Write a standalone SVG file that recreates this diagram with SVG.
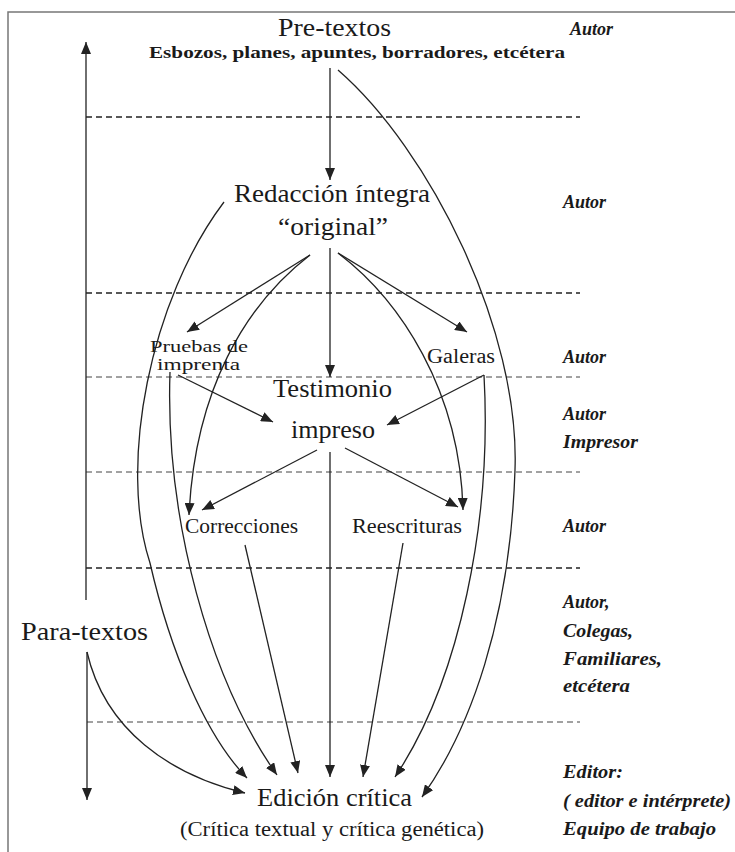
<svg xmlns="http://www.w3.org/2000/svg" width="735" height="852" viewBox="0 0 735 852">
<defs>
<marker id="ah" markerUnits="userSpaceOnUse" markerWidth="13" markerHeight="10" refX="12" refY="5" orient="auto">
<path d="M0,0 L12,5 L0,10 z" fill="#222"/>
</marker>
<style>
.bg{fill:#fff}
.frame{stroke:#777;stroke-width:1.5;fill:none}
.c{stroke:#222;stroke-width:1.3;fill:none}
.a{stroke:#222;stroke-width:1.3;fill:none;marker-end:url(#ah)}
.dh{stroke:#222;stroke-width:1.6;stroke-dasharray:6 4;fill:none}
.dl{stroke:#444;stroke-width:1;stroke-dasharray:6 4;fill:none}
text{font-family:"Liberation Serif","Times New Roman",serif;fill:#1a1a1a}
.big{font-size:26px}
.med{font-size:20px}
.sm{font-size:17px}
.sub{font-size:17px;font-weight:bold}
.role{font-size:18px;font-weight:bold;font-style:italic}
</style>
</defs>
<rect class="bg" x="0" y="0" width="735" height="852"/>
<path class="frame" d="M8,852 L8,12 L735,12"/>

<g id="bands">
<line class="dh" x1="86" y1="117" x2="580" y2="117"/>
<line class="dh" x1="86" y1="293" x2="580" y2="293"/>
<line class="dl" x1="86" y1="377" x2="580" y2="377"/>
<line class="dl" x1="86" y1="472" x2="580" y2="472"/>
<line class="dh" x1="86" y1="568" x2="580" y2="568"/>
<line class="dl" x1="87" y1="722" x2="580" y2="722"/>
</g>

<g id="connectors">
<line class="a" x1="86" y1="600" x2="86" y2="42"/>
<line class="a" x1="87" y1="652" x2="87" y2="800"/>
<line class="a" x1="330" y1="68" x2="330" y2="180"/>
<path class="a" d="M338,70 C430,150 520,330 515,470 C510,620 470,730 422,797"/>
<path class="a" d="M224,202 C150,300 118,465 150,563 C170,650 205,735 247,778"/>
<line class="a" x1="310" y1="255" x2="187" y2="332"/>
<path class="a" d="M310,255 C245,305 195,390 189,515"/>
<line class="a" x1="330" y1="248" x2="330" y2="377"/>
<line class="a" x1="338" y1="253" x2="467" y2="332"/>
<path class="a" d="M338,253 C400,300 460,390 463,510"/>
<line class="a" x1="178" y1="375" x2="273" y2="422"/>
<line class="a" x1="484" y1="375" x2="387" y2="425"/>
<path class="a" d="M170,372 C165,520 210,680 277,775"/>
<path class="a" d="M484,375 C492,520 460,680 395,777"/>
<line class="a" x1="317" y1="450" x2="202" y2="510"/>
<line class="a" x1="345" y1="448" x2="458" y2="507"/>
<line class="a" x1="330" y1="452" x2="330" y2="777"/>
<line class="a" x1="245" y1="545" x2="298" y2="773"/>
<line class="a" x1="403" y1="543" x2="363" y2="777"/>
<path class="a" d="M87,652 C105,730 170,775 245,793"/>
</g>

<g id="pretextos">
<text class="big" x="278" y="36" textLength="113" lengthAdjust="spacingAndGlyphs">Pre-textos</text>
<text class="sub" x="149" y="58" textLength="416" lengthAdjust="spacingAndGlyphs">Esbozos, planes, apuntes, borradores, etcétera</text>
</g>
<g id="redaccion">
<text class="big" x="234" y="202" textLength="196" lengthAdjust="spacingAndGlyphs">Redacción íntegra</text>
<text class="big" x="278" y="235" textLength="110" lengthAdjust="spacingAndGlyphs">“original”</text>
</g>
<g id="pruebas">
<text class="sm" x="150" y="352" textLength="98" lengthAdjust="spacingAndGlyphs">Pruebas de</text>
<text class="sm" x="157" y="370" textLength="83" lengthAdjust="spacingAndGlyphs">imprenta</text>
</g>
<g id="galeras">
<text class="med" x="427" y="363" textLength="68" lengthAdjust="spacingAndGlyphs">Galeras</text>
</g>
<g id="testimonio">
<text class="big" x="273" y="397" textLength="119" lengthAdjust="spacingAndGlyphs">Testimonio</text>
<text class="big" x="291" y="438" textLength="84" lengthAdjust="spacingAndGlyphs">impreso</text>
</g>
<g id="correcciones">
<text class="med" x="185" y="533" textLength="113" lengthAdjust="spacingAndGlyphs">Correcciones</text>
</g>
<g id="reescrituras">
<text class="med" x="352" y="533" textLength="110" lengthAdjust="spacingAndGlyphs">Reescrituras</text>
</g>
<g id="paratextos">
<text class="big" x="21" y="640" textLength="127" lengthAdjust="spacingAndGlyphs">Para-textos</text>
</g>
<g id="edicion">
<text class="big" x="257" y="806" textLength="155" lengthAdjust="spacingAndGlyphs">Edición crítica</text>
<text class="med" x="180" y="836" textLength="304" lengthAdjust="spacingAndGlyphs">(Crítica textual y crítica genética)</text>
</g>

<g id="roles">
<text class="role" x="570" y="35">Autor</text>
<text class="role" x="563" y="208">Autor</text>
<text class="role" x="563" y="363">Autor</text>
<text class="role" x="563" y="420">Autor</text>
<text class="role" x="563" y="448" textLength="75" lengthAdjust="spacingAndGlyphs">Impresor</text>
<text class="role" x="563" y="532">Autor</text>
<text class="role" x="563" y="608">Autor,</text>
<text class="role" x="563" y="637" textLength="70" lengthAdjust="spacingAndGlyphs">Colegas,</text>
<text class="role" x="563" y="665" textLength="99" lengthAdjust="spacingAndGlyphs">Familiares,</text>
<text class="role" x="563" y="692" textLength="67" lengthAdjust="spacingAndGlyphs">etcétera</text>
<text class="role" x="563" y="778" textLength="60" lengthAdjust="spacingAndGlyphs">Editor:</text>
<text class="role" x="563" y="807" textLength="168" lengthAdjust="spacingAndGlyphs">( editor e intérprete)</text>
<text class="role" x="563" y="835" textLength="153" lengthAdjust="spacingAndGlyphs">Equipo de trabajo</text>
</g>
</svg>
